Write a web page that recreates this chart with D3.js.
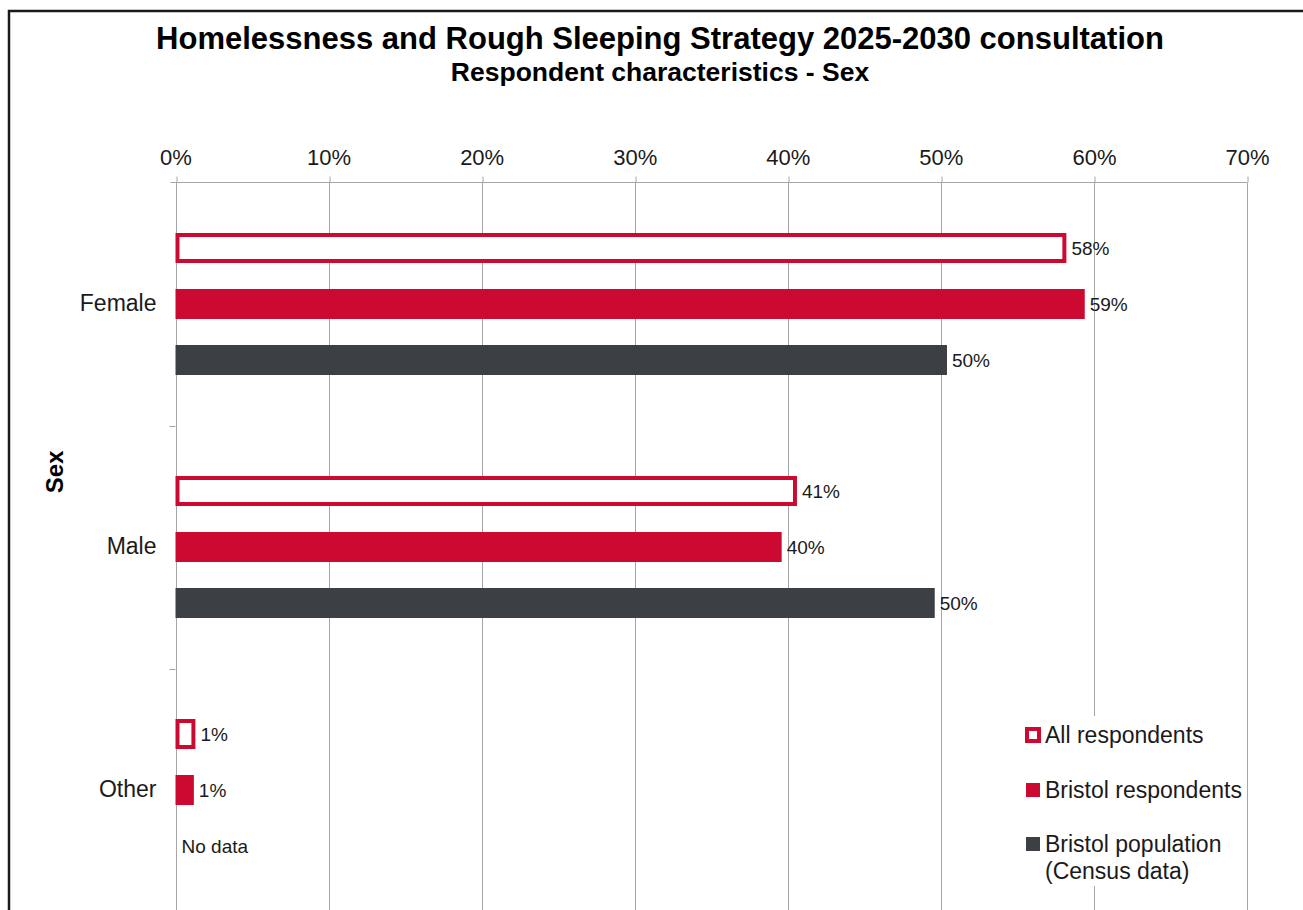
<!DOCTYPE html>
<html>
<head>
<meta charset="utf-8">
<script src="https://cdn.jsdelivr.net/npm/d3@7"></script>
<style>
  html, body { margin: 0; padding: 0; background: #fff; }
  svg { display: block; font-family: "Liberation Sans", Arial, sans-serif; }
</style>
</head>
<body>
<svg id="chart" width="1303" height="910"></svg>
<script>
// Respondent characteristics by sex (percentages)
const categories = ["Female", "Male", "Other"];
const seriesNames = ["All respondents", "Bristol respondents", "Bristol population\n(Census data)"];
const allRespondents = [58.2, 40.6, 1.3];
const bristolRespondents = [59.4, 39.6, 1.2];
const bristolPopulation = [50.4, 49.6, null];
const tickValues = [0, 10, 20, 30, 40, 50, 60, 70];

const RED = "#cc0a31";
const DARK = "#3c4045";
const TEXT = "#1a1a1a";

const svg = d3.select("#chart");

// outer frame
svg.append("rect")
  .attr("x", 9).attr("y", 11)
  .attr("width", 1320).attr("height", 920)
  .attr("fill", "none").attr("stroke", "#1a1a1a").attr("stroke-width", 2.5);

// titles
svg.append("text").attr("x", 660).attr("y", 49)
  .attr("text-anchor", "middle").attr("font-weight", "bold").attr("font-size", 31)
  .attr("fill", "#000")
  .text("Homelessness and Rough Sleeping Strategy 2025-2030 consultation");
svg.append("text").attr("x", 660).attr("y", 81)
  .attr("text-anchor", "middle").attr("font-weight", "bold").attr("font-size", 26.5)
  .attr("fill", "#000")
  .text("Respondent characteristics - Sex");

const plot = { left: 175.5, right: 1247, top: 182.5, bottom: 911 };

const x = d3.scaleLinear().domain([0, 70]).range([plot.left, plot.right]);
const y = d3.scaleBand().domain(categories).range([plot.top, plot.top + 243 * 3]);

// vertical gridlines
svg.append("g").selectAll("line").data(tickValues).join("line")
  .attr("x1", d => Math.round(x(d)) + 0.5).attr("x2", d => Math.round(x(d)) + 0.5)
  .attr("y1", plot.top).attr("y2", plot.bottom)
  .attr("stroke", "#a6a6a6").attr("stroke-width", 1);

// top axis
const xAxis = d3.axisTop(x).tickValues(tickValues)
  .tickFormat(d => d + "%").tickSize(6).tickPadding(12);
const gx = svg.append("g").attr("transform", `translate(0,${plot.top})`).call(xAxis);
gx.select(".domain").attr("stroke", "#a6a6a6").attr("d", `M${plot.left - 5},0H${plot.right}`);
gx.selectAll(".tick line").attr("stroke", "#a6a6a6")
  .attr("transform", function(d) { return `translate(${Math.round(x(d)) + 0.5 - x(d)},0)`; });
gx.selectAll(".tick text").attr("font-size", 22).attr("fill", TEXT)
  .attr("font-family", "Liberation Sans, Arial, sans-serif");

// left axis: category labels and band separator ticks
const yAxis = d3.axisLeft(y).tickSize(0).tickPadding(19);
const gy = svg.append("g").attr("transform", `translate(${plot.left},0)`).call(yAxis);
gy.select(".domain").remove();
gy.selectAll(".tick text").attr("font-size", 23).attr("fill", TEXT)
  .attr("font-family", "Liberation Sans, Arial, sans-serif");
svg.append("g").selectAll("line")
  .data(categories.slice(1))
  .join("line")
  .attr("x1", plot.left - 6).attr("x2", plot.left)
  .attr("y1", d => Math.round(y(d)) + 0.5).attr("y2", d => Math.round(y(d)) + 0.5)
  .attr("stroke", "#a6a6a6");

// y axis title
svg.append("text")
  .attr("transform", "translate(63,472) rotate(-90)")
  .attr("text-anchor", "middle").attr("font-weight", "bold").attr("font-size", 24)
  .attr("fill", "#000").text("Sex");

// bars
const series = [
  { name: seriesNames[0], values: allRespondents, outline: true, color: RED },
  { name: seriesNames[1], values: bristolRespondents, outline: false, color: RED },
  { name: seriesNames[2], values: bristolPopulation, outline: false, color: DARK }
];
const sub = d3.scaleBand().domain(d3.range(series.length))
  .range([50.5, 50.5 + 56 * 2 + 30]).paddingInner(26 / 56);
const fmt = v => Math.round(v) + "%";

const barLayer = svg.append("g");
series.forEach((s, si) => {
  const rows = categories.map((c, ci) => ({ c, v: s.values[ci] }));
  const g = barLayer.append("g");
  const bh = sub.bandwidth();
  rows.forEach(r => {
    const y0 = y(r.c) + sub(si);
    if (r.v == null) {
      g.append("text").attr("x", plot.left + 6).attr("y", y0 + bh / 2)
        .attr("dy", "0.35em").attr("font-size", 19).attr("fill", TEXT)
        .text("No data");
      return;
    }
    const w = x(r.v) - x(0);
    if (s.outline) {
      g.append("rect")
        .attr("x", x(0) + 2).attr("y", y0 + 2)
        .attr("width", Math.max(w - 4, 0)).attr("height", bh - 4)
        .attr("fill", "#fff").attr("stroke", s.color).attr("stroke-width", 4);
    } else {
      g.append("rect")
        .attr("x", x(0)).attr("y", y0)
        .attr("width", w).attr("height", bh)
        .attr("fill", s.color);
    }
    g.append("text").attr("x", x(r.v) + 5).attr("y", y0 + bh / 2)
      .attr("dy", "0.35em").attr("font-size", 19).attr("fill", TEXT)
      .text(fmt(r.v));
  });
});

// legend
const legend = svg.append("g").attr("transform", "translate(1020,716)");
legend.append("rect").attr("x", 0).attr("y", 0).attr("width", 227).attr("height", 170).attr("fill", "#fff");
const legendY = [19, 74, 128];
series.forEach((s, i) => {
  const gi = legend.append("g").attr("transform", `translate(0,${legendY[i]})`);
  if (s.outline) {
    gi.append("rect").attr("x", 7).attr("y", -6).attr("width", 12).attr("height", 12)
      .attr("fill", "#fff").attr("stroke", s.color).attr("stroke-width", 4);
  } else {
    gi.append("rect").attr("x", 6).attr("y", -7).attr("width", 14).attr("height", 14)
      .attr("fill", s.color);
  }
  const lines = s.name.split("\n");
  const t = gi.append("text").attr("x", 25).attr("y", 0)
    .attr("font-size", 23).attr("fill", TEXT);
  lines.forEach((ln, li) => {
    t.append("tspan").attr("x", 25).attr("dy", li === 0 ? "0.35em" : 27).text(ln);
  });
});
</script>
</body>
</html>
